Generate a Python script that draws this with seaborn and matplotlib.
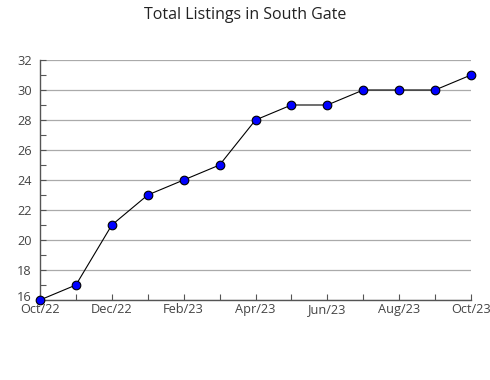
import matplotlib
matplotlib.use("Agg")
import matplotlib.pyplot as plt
import matplotlib.transforms as mtransforms
import seaborn as sns
import pandas as pd
from matplotlib.ticker import MultipleLocator

months = ["Oct/22", "Nov/22", "Dec/22", "Jan/23", "Feb/23", "Mar/23", "Apr/23",
          "May/23", "Jun/23", "Jul/23", "Aug/23", "Sep/23", "Oct/23"]
listings = [16, 17, 21, 23, 24, 25, 28, 29, 29, 30, 30, 30, 31]
yticks = [16, 18, 20, 22, 24, 26, 28, 30, 32]

sns.set_theme(style="white")
plt.rcParams['font.family'] = ['Open Sans', 'DejaVu Sans']

df = pd.DataFrame({"idx": range(len(months)), "value": listings})

fig = plt.figure(figsize=(4.9, 3.8), dpi=100)
ax = fig.add_axes([40/490, 1-300/380, (471-40)/490, 240/380])

for y in yticks:
    ax.axhline(y, color="#aaaaaa", lw=0.9, zorder=0)

sns.lineplot(data=df, x="idx", y="value", ax=ax, color="black", lw=0.8,
             marker="o", markersize=6.2, markerfacecolor="#0000ff",
             markeredgecolor="black", markeredgewidth=0.8, clip_on=False, zorder=3)

ax.set_xlim(0, len(months) - 1)
ax.set_ylim(16, 32)
ax.set_xticks(range(len(months)))
ax.set_xticklabels([m if i % 2 == 0 else "" for i, m in enumerate(months)])
ax.set_yticks(yticks)
ax.yaxis.set_minor_locator(MultipleLocator(1))
ax.tick_params(axis="both", which="both", direction="in", length=4, width=0.8,
               colors="#555555", labelcolor="#444444", labelsize=9.2)
ax.tick_params(axis="x", bottom=True, pad=2.5)
ax.tick_params(axis="y", which="both", left=True, pad=6)
ylbls = ax.get_yticklabels()
for lbl in ylbls:
    lbl.set_verticalalignment("center_baseline")
ylbls[0].set_transform(ylbls[0].get_transform() +
                       mtransforms.ScaledTranslation(0, 3/72, fig.dpi_scale_trans))
ax.set_xlabel("")
ax.set_ylabel("")
for s in ["top", "right"]:
    ax.spines[s].set_visible(False)
for s in ["left", "bottom"]:
    ax.spines[s].set_color("#555555")
    ax.spines[s].set_linewidth(1.0)

fig.text(0.5, 1-15/380, "Total Listings in South Gate", ha="center", va="center",
         fontsize=11.5, color="#222222")

fig.savefig("out.png", dpi=100)
